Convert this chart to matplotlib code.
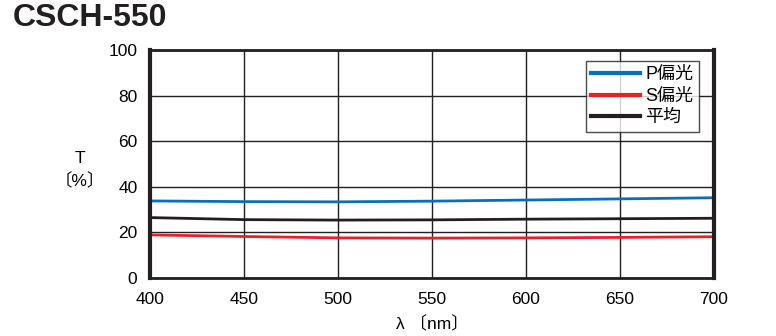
import matplotlib.pyplot as plt

plt.rcParams['font.family'] = ['Liberation Sans', 'Noto Sans CJK JP', 'DejaVu Sans']

# 波長とデータ
wl = [400, 450, 500, 550, 600, 650, 700]
p_pol = [33.8, 33.5, 33.4, 33.7, 34.2, 34.7, 35.2]
s_pol = [18.9, 18.2, 17.6, 17.5, 17.6, 17.8, 18.1]
avg = [26.5, 25.6, 25.4, 25.5, 25.8, 26.0, 26.2]

xticks = [400, 450, 500, 550, 600, 650, 700]
yticks = [0, 20, 40, 60, 80, 100]

fig = plt.figure(figsize=(7.76, 3.36), dpi=100)
ax = fig.add_axes([150/776, 1-278/336, (714-150)/776, (278-50)/336])

ax.plot(wl, p_pol, color='#0a6ebd', lw=2, label='P偏光')
ax.plot(wl, s_pol, color='#e8202a', lw=2, label='S偏光')
ax.plot(wl, avg, color='#231f20', lw=2, label='平均')

ax.set_xlim(400, 700)
ax.set_ylim(0, 100)
ax.set_xticks(xticks)
ax.set_yticks(yticks)
ax.grid(True, color='#231f20', lw=1)
ax.tick_params(axis='x', length=0, labelsize=12.5, pad=10)
ax.tick_params(axis='y', length=0, labelsize=12.5, pad=9)
for s in ax.spines.values():
    s.set_linewidth(2)
    s.set_color('#231f20')
ax.spines['left'].set_linewidth(3)
ax.spines['right'].set_linewidth(3)

ax.set_xlabel('λ 〔nm〕', fontsize=12.5, labelpad=6)
fig.text(80/776, 1-170/336, 'T\n〔%〕', fontsize=12.5, ha='center', va='center', linespacing=1.5)

leg = ax.legend(loc='upper right', bbox_to_anchor=(0.973, 0.952), fontsize=13,
                frameon=True, fancybox=False, edgecolor='#231f20',
                handlelength=2.7, handletextpad=0.3, borderpad=0.3,
                labelspacing=0.25, borderaxespad=0)
leg.get_frame().set_linewidth(1)
for h in leg.get_lines():
    h.set_linewidth(3)

fig.text(13/776, 1-18/336, 'CSCH-550', fontsize=23, fontweight='bold',
         ha='left', va='center', color='#231f20')

fig.savefig('out.png', dpi=100)
